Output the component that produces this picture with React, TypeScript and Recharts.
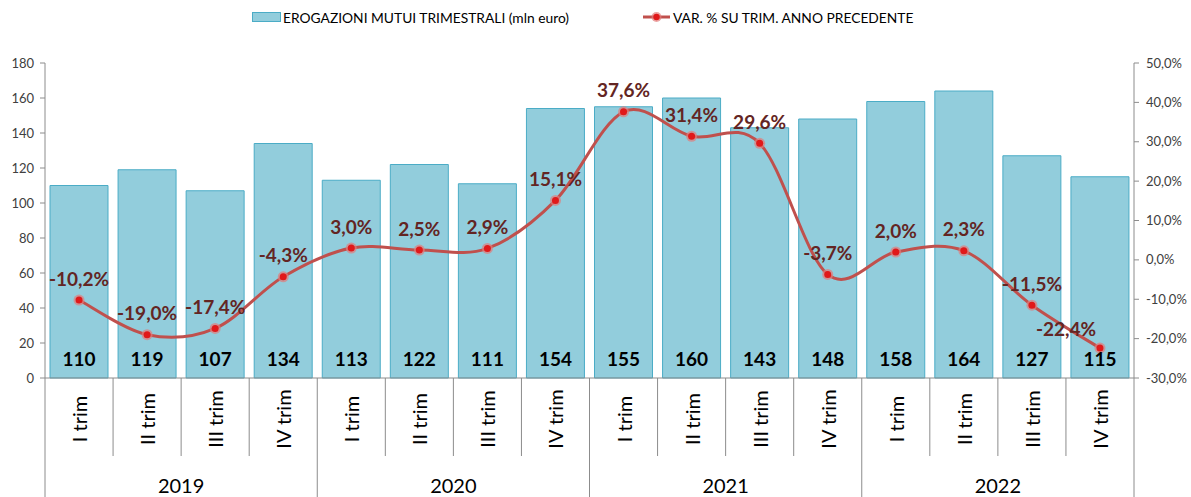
import React from 'react';
import { ComposedChart, Bar, Line, XAxis, YAxis, LabelList } from 'recharts';

const quarters = ['I trim', 'II trim', 'III trim', 'IV trim', 'I trim', 'II trim', 'III trim', 'IV trim', 'I trim', 'II trim', 'III trim', 'IV trim', 'I trim', 'II trim', 'III trim', 'IV trim'];
const years = ['2019', '2020', '2021', '2022'];
const erogazioni = [110, 119, 107, 134, 113, 122, 111, 154, 155, 160, 143, 148, 158, 164, 127, 115];
const variazione = [-10.2, -19.0, -17.4, -4.3, 3.0, 2.5, 2.9, 15.1, 37.6, 31.4, 29.6, -3.7, 2.0, 2.3, -11.5, -22.4];
const leftTicks = [0, 20, 40, 60, 80, 100, 120, 140, 160, 180];
const rightTicks = [-30, -20, -10, 0, 10, 20, 30, 40, 50];
const seriesNames = ['EROGAZIONI MUTUI TRIMESTRALI (mln euro)', 'VAR. % SU TRIM. ANNO PRECEDENTE'];

const data = quarters.map((q, i) => ({
  key: `${years[Math.floor(i / 4)]} ${q}`,
  quarter: q,
  year: years[Math.floor(i / 4)],
  erog: erogazioni[i],
  varp: variazione[i],
}));

const W = 1191;
const H = 497;
const LEFT = 45;
const RIGHT_W = 57;
const TOP = 63;
const XAXIS_H = 119;
const PLOT_BOTTOM = H - XAXIS_H;
const BAND = (W - LEFT - RIGHT_W) / quarters.length;
const FONT = 'Lato, "Open Sans", sans-serif';

const BAR_FILL = '#92CDDC';
const BAR_STROKE = '#4BACC6';
const LINE_COLOR = '#C0504D';
const LABEL_RED = '#632523';

const fmtPct = (v: number) => v.toFixed(1).replace('.', ',') + '%';

// Excel-like smoothed line (Catmull-Rom with 1/6 tangents)
const excelCurve: any = (context: any) => {
  let pts: number[][] = [];
  return {
    areaStart() {},
    areaEnd() {},
    lineStart() {
      pts = [];
    },
    point(x: number, y: number) {
      pts.push([+x, +y]);
    },
    lineEnd() {
      const n = pts.length;
      if (!n) return;
      context.moveTo(pts[0][0], pts[0][1]);
      for (let i = 0; i < n - 1; i++) {
        const p0 = pts[i - 1] || pts[i];
        const p1 = pts[i];
        const p2 = pts[i + 1];
        const p3 = pts[i + 2] || pts[i + 1];
        context.bezierCurveTo(
          p1[0] + (p2[0] - p0[0]) / 6,
          p1[1] + (p2[1] - p0[1]) / 6,
          p2[0] - (p3[0] - p1[0]) / 6,
          p2[1] - (p3[1] - p1[1]) / 6,
          p2[0],
          p2[1]
        );
      }
    },
  };
};

const XTick = (props: any) => {
  const { x, index } = props;
  const i = index as number;
  const d = data[i];
  const isYearStart = i % 4 === 0;
  return (
    <g>
      <line x1={x - BAND / 2} x2={x - BAND / 2} y1={PLOT_BOTTOM} y2={isYearStart ? H : 456} stroke="#8C8C8C" strokeWidth={1} />
      {i === quarters.length - 1 && (
        <line x1={x + BAND / 2} x2={x + BAND / 2} y1={PLOT_BOTTOM} y2={H} stroke="#8C8C8C" strokeWidth={1} />
      )}
      <text
        x={x}
        y={419}
        transform={`rotate(-90, ${x}, 419)`}
        textAnchor="middle"
        dominantBaseline="central"
        fontFamily={FONT}
        fontSize={20}
        fill="#000"
      >
        {d.quarter}
      </text>
      {i % 4 === 1 && (
        <text x={x + BAND / 2} y={485} textAnchor="middle" dominantBaseline="central" fontFamily={FONT} fontSize={20} fill="#000">
          {d.year}
        </text>
      )}
    </g>
  );
};

const LineLabel = (props: any) => {
  const { x, y, value, index } = props;
  const last = index === variazione.length - 1;
  const dx = last ? -34 : 0;
  const dy = last ? -20 : -22;
  return (
    <text
      x={x + dx}
      y={y + dy}
      textAnchor="middle"
      dominantBaseline="central"
      fontFamily={FONT}
      fontSize={19}
      fontWeight={700}
      fill={LABEL_RED}
    >
      {fmtPct(value)}
    </text>
  );
};

const BarLabel = (props: any) => {
  const { x, y, width, height, value } = props;
  return (
    <text
      x={x + width / 2}
      y={y + height - 20}
      textAnchor="middle"
      dominantBaseline="central"
      fontFamily={FONT}
      fontSize={19}
      fontWeight={700}
      fill="#000"
    >
      {value}
    </text>
  );
};

const Dot = (props: any) => {
  const { cx, cy, index } = props;
  if (cx == null || cy == null) return null;
  return (
    <g key={`dot-${index}`}>
      <circle cx={cx} cy={cy} r={5.5} fill="#E37C7A" opacity={0.7} />
      <circle cx={cx} cy={cy} r={3.5} fill="#E0191A" />
    </g>
  );
};

const LegendBox = () => (
  <div style={{ position: 'absolute', left: 0, top: 0, width: W, height: 36, fontFamily: FONT, fontSize: 13.8, color: '#000', pointerEvents: 'none' }}>
    <div style={{ position: 'absolute', left: 252, top: 8, height: 18, display: 'flex', alignItems: 'center' }}>
      <span
        style={{
          display: 'inline-block',
          width: 27,
          height: 8,
          background: BAR_FILL,
          border: `1px solid ${BAR_STROKE}`,
          marginRight: 2,
        }}
      />
      <span>{seriesNames[0]}</span>
    </div>
    <div style={{ position: 'absolute', left: 643, top: 8, height: 18, display: 'flex', alignItems: 'center' }}>
      <svg width={27} height={12} style={{ marginRight: 3 }}>
        <line x1={0} x2={27} y1={6} y2={6} stroke={LINE_COLOR} strokeWidth={3} />
        <circle cx={13.5} cy={6} r={5} fill="#E37C7A" opacity={0.7} />
        <circle cx={13.5} cy={6} r={3.2} fill="#E0191A" />
      </svg>
      <span>{seriesNames[1]}</span>
    </div>
  </div>
);

export default function App() {
  return (
    <div style={{ position: 'absolute', left: 0, top: 0, width: W, height: H, background: '#fff' }}>
      <ComposedChart width={W} height={H} data={data} margin={{ top: TOP, right: 0, bottom: 0, left: 0 }}>
        <XAxis
          dataKey="key"
          height={XAXIS_H}
          interval={0}
          tickLine={false}
          tickSize={0}
          axisLine={{ stroke: '#8C8C8C' }}
          tick={XTick}
        />
        <YAxis
          yAxisId="left"
          orientation="left"
          width={LEFT}
          domain={[0, 180]}
          ticks={leftTicks}
          interval={0}
          tickSize={5}
          tickMargin={6}
          axisLine={{ stroke: '#8C8C8C' }}
          tickLine={{ stroke: '#8C8C8C' }}
          tick={{ fontFamily: FONT, fontSize: 13, fill: '#404040' }}
        />
        <YAxis
          yAxisId="right"
          orientation="right"
          width={RIGHT_W}
          domain={[-30, 50]}
          ticks={rightTicks}
          interval={0}
          tickSize={5}
          tickMargin={7}
          axisLine={{ stroke: '#8C8C8C' }}
          tickLine={{ stroke: '#8C8C8C' }}
          tickFormatter={fmtPct}
          tick={{ fontFamily: FONT, fontSize: 13, fill: '#404040' }}
        />
        <Bar yAxisId="left" name={seriesNames[0]} dataKey="erog" barSize={58} fill={BAR_FILL} stroke={BAR_STROKE} strokeWidth={1} isAnimationActive={false}>
          <LabelList dataKey="erog" content={BarLabel} />
        </Bar>
        <Line
          yAxisId="right"
          name={seriesNames[1]}
          dataKey="varp"
          type={excelCurve}
          stroke={LINE_COLOR}
          strokeWidth={3}
          dot={Dot}
          activeDot={false}
          isAnimationActive={false}
        >
          <LabelList dataKey="varp" content={LineLabel} />
        </Line>
      </ComposedChart>
      <LegendBox />
    </div>
  );
}
